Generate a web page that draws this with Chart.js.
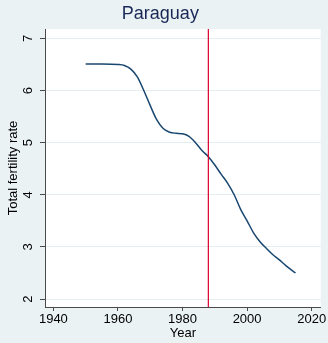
<!DOCTYPE html>
<html>
<head>
<meta charset="utf-8">
<script src="https://cdn.jsdelivr.net/npm/chart.js@4.4.1/dist/chart.umd.min.js"></script>
<style>
    html, body { margin: 0; padding: 0; background: #eaf2f3; }
    #wrap { width: 328px; height: 343px; }
</style>
</head>
<body>
<div id="wrap"><canvas id="tfr"></canvas></div>
<script>
// Total fertility rate, Paraguay
const years = [1950, 1955, 1960, 1962, 1964, 1966, 1968, 1970, 1972, 1974, 1976, 1978, 1980, 1982, 1984,
               1986, 1988, 1990, 1992, 1994, 1996, 1998, 2000, 2002, 2004, 2006, 2008, 2010, 2012, 2015];
const fertility = [6.51, 6.51, 6.50, 6.48, 6.41, 6.26, 6.00, 5.71, 5.44, 5.27, 5.20, 5.18, 5.17, 5.12, 5.00,
                   4.85, 4.73, 4.57, 4.39, 4.22, 4.00, 3.72, 3.50, 3.27, 3.10, 2.97, 2.85, 2.75, 2.64, 2.50];
const xTicks = [1940, 1960, 1980, 2000, 2020];
const yTicks = [2, 3, 4, 5, 6, 7];
const markerYear = 1988;

const AXIS = '#4a4a4a';
const GRID = '#e4edef';
const FONT = "'Liberation Sans', Arial, sans-serif";

// Paint the outer background and the white plot region
const backdrop = {
    id: 'backdrop',
    beforeDraw(chart) {
        const { ctx, chartArea: a } = chart;
        ctx.save();
        ctx.fillStyle = '#eaf2f3';
        ctx.fillRect(0, 0, chart.width, chart.height);
        ctx.fillStyle = '#ffffff';
        ctx.fillRect(a.left, a.top, a.right - a.left, a.bottom - a.top);
        ctx.restore();
    }
};

// Vertical reference line at the marker year
const xLine = {
    id: 'xLine',
    afterDatasetsDraw(chart) {
        const { ctx, chartArea: a, scales } = chart;
        const x = scales.x.getPixelForValue(markerYear);
        ctx.save();
        ctx.strokeStyle = '#dc0030';
        ctx.lineWidth = 1.2;
        ctx.beginPath();
        ctx.moveTo(x, a.top);
        ctx.lineTo(x, a.bottom);
        ctx.stroke();
        ctx.restore();
    }
};

new Chart(document.getElementById('tfr'), {
    type: 'line',
    data: {
        datasets: [{
            data: years.map((y, i) => ({ x: y, y: fertility[i] })),
            borderColor: '#1a476f',
            borderWidth: 1.5,
            pointRadius: 0,
            cubicInterpolationMode: 'monotone',
            fill: false
        }]
    },
    options: {
        responsive: true,
        maintainAspectRatio: false,
        animation: false,
        layout: { padding: { left: 0, right: 7.3, top: 0, bottom: 0 } },
        plugins: {
            legend: { display: false },
            tooltip: { enabled: false },
            title: {
                display: true,
                text: 'Paraguay',
                color: '#1a2857',
                font: { family: FONT, size: 18, weight: 'normal' },
                padding: { top: 3.7, bottom: 3.7 }
            }
        },
        scales: {
            x: {
                type: 'linear',
                min: 1937.4,
                max: 2022.8,
                afterBuildTicks: s => { s.ticks = xTicks.map(v => ({ value: v })); },
                afterFit: s => { s.height = 36; },
                ticks: {
                    color: '#000',
                    font: { family: FONT, size: 13 },
                    padding: 1,
                    maxRotation: 0,
                    callback: v => String(v)
                },
                grid: {
                    drawOnChartArea: false,
                    drawTicks: true,
                    tickLength: 4,
                    tickColor: AXIS
                },
                border: { display: true, color: AXIS, width: 1 },
                title: {
                    display: true,
                    text: 'Year',
                    color: '#000',
                    font: { family: FONT, size: 13 },
                    padding: { top: 0, bottom: 2 }
                }
            },
            y: {
                type: 'linear',
                min: 1.847,
                max: 7.18,
                afterBuildTicks: s => { s.ticks = yTicks.map(v => ({ value: v })); },
                afterFit: s => { s.width = 45; },
                ticks: {
                    color: '#000',
                    font: { family: FONT, size: 13 },
                    minRotation: 90,
                    maxRotation: 90,
                    crossAlign: 'center',
                    padding: 8,
                    callback: v => String(v)
                },
                grid: {
                    color: GRID,
                    lineWidth: 1,
                    drawTicks: true,
                    tickLength: 5,
                    tickColor: AXIS
                },
                border: { display: true, color: AXIS, width: 1 },
                title: {
                    display: true,
                    text: 'Total fertility rate',
                    color: '#000',
                    font: { family: FONT, size: 13 },
                    padding: { top: 5.5, bottom: 0 }
                }
            }
        }
    },
    plugins: [backdrop, xLine]
});
</script>
</body>
</html>
